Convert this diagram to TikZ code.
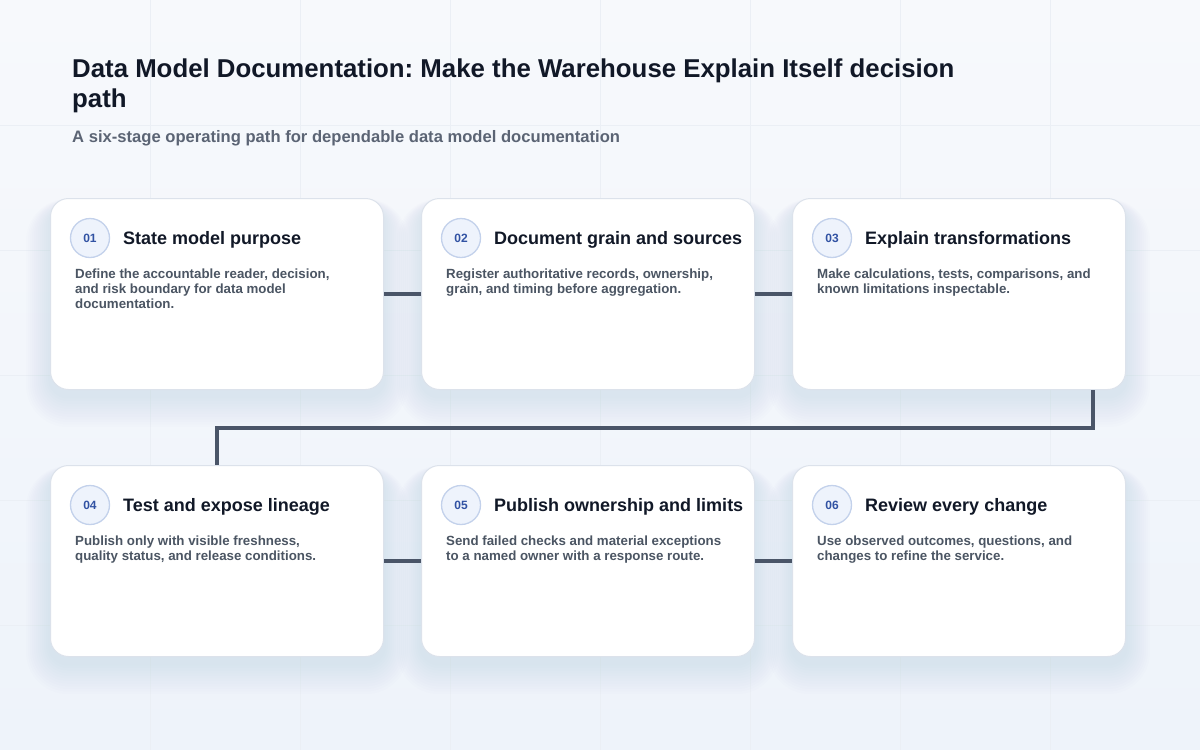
\documentclass[tikz,border=0pt]{standalone}
\usepackage{fontspec}
\setmainfont{Liberation Sans}
\usetikzlibrary{calc,backgrounds}
\frenchspacing
\definecolor{bgA}{HTML}{F7F9FC}
\definecolor{bgB}{HTML}{EEF3FA}
\definecolor{gridc}{HTML}{EBEFF5}
\definecolor{ink}{HTML}{111827}
\definecolor{subc}{HTML}{5B6474}
\definecolor{descc}{HTML}{4B5563}
\definecolor{edgec}{HTML}{DCE2EB}
\definecolor{wire}{HTML}{4A5568}
\definecolor{badgefill}{HTML}{EEF3FC}
\definecolor{badgeedge}{HTML}{C3D1EB}
\definecolor{badgetext}{HTML}{3152A3}
\definecolor{shadowc}{HTML}{5A6E96}
\tikzset{
  cardbox/.style={draw=edgec, line width=1, fill=white, rounded corners=18,
    minimum width=333, minimum height=191, inner sep=0, anchor=north west},
  badge/.style={circle, draw=badgeedge, line width=1.3, fill=badgefill,
    minimum size=39, inner sep=0, text=badgetext,
    font=\fontsize{12}{14}\selectfont\bfseries},
  steptitle/.style={anchor=base west, inner sep=0, text=ink,
    font=\fontsize{18}{21}\selectfont\bfseries},
  stepdesc/.style={anchor=north west, inner sep=0, align=left, text=descc,
    font=\fontsize{13.3}{15}\selectfont\bfseries},
  wireline/.style={draw=wire, line width=4},
}
\newcommand{\cardshadow}[1]{%
  \foreach \k in {1,...,12}{%
    \fill[shadowc, opacity=0.0075, rounded corners={18+\k*2}]
      ($(#1.north west)+(-\k*2, 8-\k*0.6)$) rectangle ($(#1.south east)+(\k*2, 6+\k*2.6)$);
  }%
}
\begin{document}
\begin{tikzpicture}[x=1pt,y=-1pt]
\useasboundingbox (0,0) rectangle (1200,750);
\begin{scope}[on background layer]
  \shade[top color=bgA, bottom color=bgB] (0,0) rectangle (1200,750);
  \foreach \x in {150,300,...,1050} \draw[gridc, line width=0.7] (\x,0) -- (\x,750);
  \foreach \y in {125,250,...,625} \draw[gridc, line width=0.7] (0,\y) -- (1200,\y);
\end{scope}

% heading
\node[anchor=north west, inner sep=0, align=left, text=ink,
  font=\fontsize{25.8}{30}\selectfont\bfseries] (title) at (72,58.5)
  {Data Model Documentation: Make the Warehouse Explain Itself decision\\path};
\node[anchor=base west, inner sep=0, text=subc,
  font=\fontsize{16.6}{20}\selectfont\bfseries] (subtitle) at (72,142)
  {A six-stage operating path for dependable data model documentation};

% cards
\node[cardbox] (c1) at (50,198) {};
\node[cardbox] (c2) at (421,198) {};
\node[cardbox] (c3) at (792,198) {};
\node[cardbox] (c4) at (50,465) {};
\node[cardbox] (c5) at (421,465) {};
\node[cardbox] (c6) at (792,465) {};

\begin{scope}[on background layer]
  \foreach \c in {c1,c2,c3,c4,c5,c6} {\cardshadow{\c}}
\end{scope}

% connectors
\draw[wireline] (c1.east) -- (c2.west);
\draw[wireline] (c2.east) -- (c3.west);
\coordinate (turnA) at ($(c3.south east)+(-33,0)$);
\draw[wireline] (turnA) -- ($(turnA)+(0,38)$) -| (c4.north);
\draw[wireline] (c4.east) -- (c5.west);
\draw[wireline] (c5.east) -- (c6.west);

% badges, titles, descriptions
\foreach \c/\n/\t in {c1/01/State model purpose, c2/02/Document grain and sources,
  c3/03/Explain transformations, c4/04/Test and expose lineage,
  c5/05/Publish ownership and limits, c6/06/Review every change} {
  \node[badge] (\c b) at ($(\c.north west)+(40,40)$) {\n};
  \node[steptitle] (\c t) at ($(\c.north west)+(73,46.5)$) {\t};
}
\node[stepdesc] (c1d) at ($(c1.north west)+(25,70.5)$)
  {Define the accountable reader, decision,\\and risk boundary for data model\\documentation.};
\node[stepdesc] (c2d) at ($(c2.north west)+(25,70.5)$)
  {Register authoritative records, ownership,\\grain, and timing before aggregation.};
\node[stepdesc] (c3d) at ($(c3.north west)+(25,70.5)$)
  {Make calculations, tests, comparisons, and\\known limitations inspectable.};
\node[stepdesc] (c4d) at ($(c4.north west)+(25,70.5)$)
  {Publish only with visible freshness,\\quality status, and release conditions.};
\node[stepdesc] (c5d) at ($(c5.north west)+(25,70.5)$)
  {Send failed checks and material exceptions\\to a named owner with a response route.};
\node[stepdesc] (c6d) at ($(c6.north west)+(25,70.5)$)
  {Use observed outcomes, questions, and\\changes to refine the service.};
\end{tikzpicture}
\end{document}
